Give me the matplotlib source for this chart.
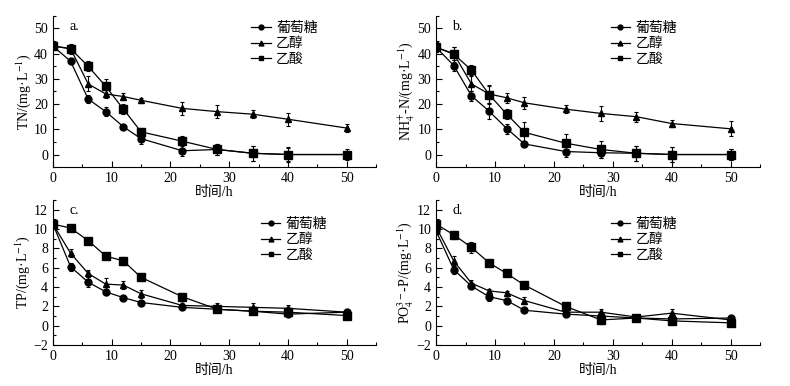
import matplotlib.pyplot as plt
from matplotlib.lines import Line2D
from matplotlib.ticker import MultipleLocator

plt.rcParams['font.family'] = ['Liberation Serif', 'Noto Sans CJK SC']
plt.rcParams['mathtext.fontset'] = 'stix'
plt.rcParams['axes.unicode_minus'] = True

# sampling times (h)
t = [0, 3, 6, 9, 12, 15, 22, 28, 34, 40, 50]
names = ["葡萄糖", "乙醇", "乙酸"]

# a. TN
tn_glu = [43, 37, 22, 17, 11, 6.3, 1.5, 2, 0.5, 0, 0]
tn_glu_err = [0.8, 1, 1.5, 1.8, 0.8, 2, 2.2, 2, 3, 2.5, 1.5]
tn_eth = [43, 42, 28, 24, 23, 21.5, 18.3, 17, 16, 14, 10.5]
tn_eth_err = [1, 1.5, 3, 1.5, 1.5, 1, 2.5, 2.5, 1.5, 2.5, 1.5]
tn_ace = [43, 42, 35, 27, 18, 9, 5.3, 2, 0.5, 0, 0]
tn_ace_err = [1, 2, 2, 3, 2, 1.5, 2, 2, 3, 3, 2]

# b. NH4+-N
nh_glu = [42.5, 35.3, 23.3, 17.2, 10.3, 4.2, 1.2, 0.7, 0.5, 0, 0]
nh_glu_err = [2, 2, 2, 3, 2, 1.2, 2, 2, 3, 3, 2]
nh_eth = [42.5, 40, 28, 24, 22.5, 20.5, 18, 16.3, 15, 12.3, 10.2]
nh_eth_err = [2, 2.5, 3, 3.5, 2, 2.5, 1.5, 3, 2, 1.5, 3]
nh_ace = [42.5, 39.8, 33.5, 23.8, 16, 8.8, 4.5, 2, 0.5, 0, 0]
nh_ace_err = [2, 3, 2, 3.5, 2, 4, 3.5, 3.5, 3, 3, 2]

# c. TP
tp_glu = [10.5, 6.1, 4.5, 3.5, 2.9, 2.4, 1.9, 1.7, 1.5, 1.2, 1.4]
tp_glu_err = [0.3, 0.4, 0.5, 0.3, 0.2, 0.2, 0.2, 0.2, 0.2, 0.2, 0.2]
tp_eth = [10.5, 7.5, 5.4, 4.3, 4.2, 3.3, 2.1, 2.0, 1.9, 1.8, 1.4]
tp_eth_err = [0.3, 0.4, 0.4, 0.6, 0.4, 0.4, 0.3, 0.3, 0.4, 0.3, 0.2]
tp_ace = [10.5, 10.1, 8.8, 7.2, 6.7, 5.0, 3.0, 1.7, 1.5, 1.4, 1.05]
tp_ace_err = [0.2, 0.2, 0.2, 0.3, 0.4, 0.2, 0.3, 0.3, 0.3, 0.3, 0.2]

# d. PO4 3- -P
po_glu = [9.8, 5.8, 4.1, 3.0, 2.6, 1.6, 1.2, 1.0, 0.8, 0.7, 0.8]
po_glu_err = [0.3, 0.5, 0.3, 0.4, 0.3, 0.15, 0.2, 0.3, 0.3, 0.2, 0.2]
po_eth = [10.2, 6.7, 4.4, 3.6, 3.4, 2.6, 1.4, 1.4, 0.9, 1.3, 0.6]
po_eth_err = [0.3, 0.5, 0.3, 0.2, 0.2, 0.4, 0.2, 0.3, 0.2, 0.4, 0.2]
po_ace = [10.5, 9.4, 8.1, 6.5, 5.4, 4.2, 2.0, 0.6, 0.8, 0.5, 0.3]
po_ace_err = [0.3, 0.4, 0.6, 0.3, 0.3, 0.2, 0.2, 0.4, 0.3, 0.2, 0.2]

panels = [
    ("a.", "TN/(mg·L$^{-1}$)", (tn_glu, tn_eth, tn_ace), (tn_glu_err, tn_eth_err, tn_ace_err),
     (-5, 55), 10, [0.067, 0.567, 0.409, 0.392], (0.575, 1.04)),
    ("b.", "NH$_4^{+}$-N/(mg·L$^{-1}$)", (nh_glu, nh_eth, nh_ace), (nh_glu_err, nh_eth_err, nh_ace_err),
     (-5, 55), 10, [0.552, 0.567, 0.410, 0.392], (0.50, 1.04)),
    ("c.", "TP/(mg·L$^{-1}$)", (tp_glu, tp_eth, tp_ace), (tp_glu_err, tp_eth_err, tp_ace_err),
     (-2, 13), 2, [0.067, 0.106, 0.409, 0.376], (0.605, 0.96)),
    ("d.", "PO$_4^{3-}$-P/(mg·L$^{-1}$)", (po_glu, po_eth, po_ace), (po_glu_err, po_eth_err, po_ace_err),
     (-2, 13), 2, [0.552, 0.106, 0.410, 0.376], (0.50, 0.96)),
]

markers = ["o", "^", "s"]
msizes = [5, 5, 6]

fig = plt.figure(figsize=(7.9, 3.86), dpi=100)
for tag, ylabel, series, errs, ylim, ystep, rect, leg_pos in panels:
    ax = fig.add_axes(rect)
    for name, y, e, m, ms in zip(names, series, errs, markers, msizes):
        ax.errorbar(t, y, yerr=e, color="black", marker=m, markersize=ms, lw=0.9,
                    elinewidth=0.8, capsize=1.5, capthick=0.8)
    ax.set_xlim(0, 55)
    ax.set_ylim(*ylim)
    ax.xaxis.set_major_locator(MultipleLocator(10))
    ax.xaxis.set_minor_locator(MultipleLocator(5))
    ax.yaxis.set_major_locator(MultipleLocator(ystep))
    ax.yaxis.set_minor_locator(MultipleLocator(ystep / 2))
    ax.set_xticks([0, 10, 20, 30, 40, 50])
    ax.spines["top"].set_visible(False)
    ax.spines["right"].set_visible(False)
    ax.tick_params(direction="in", which="both", labelsize=10, width=0.8)
    ax.tick_params(which="major", length=4)
    ax.tick_params(which="minor", length=2)
    ax.set_xlabel("时间/h", fontsize=10, labelpad=1)
    ax.set_ylabel(ylabel, fontsize=10, labelpad=1)
    ax.text(0.05, 0.97, tag, transform=ax.transAxes, fontsize=10, va="top")
    handles = [Line2D([], [], color="black", lw=0.9, marker=m, markersize=3.5)
               for m in markers]
    ax.legend(handles, names, loc="upper left", bbox_to_anchor=leg_pos, frameon=False,
              fontsize=10, handlelength=1.4, handletextpad=0.4, labelspacing=0.15)

fig.savefig("out.png", dpi=100)
